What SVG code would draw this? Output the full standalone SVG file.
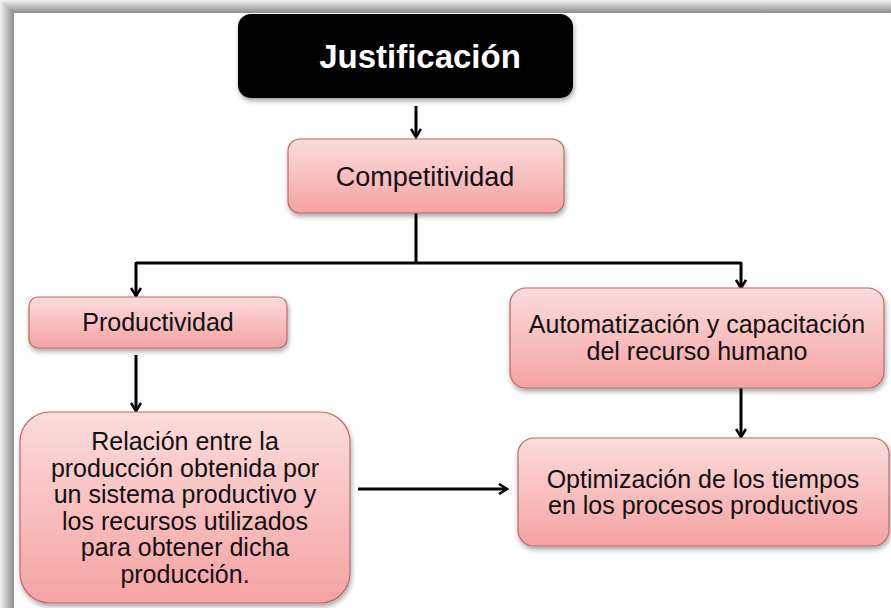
<svg xmlns="http://www.w3.org/2000/svg" width="891" height="608" viewBox="0 0 891 608">
<defs>
<linearGradient id="pink" x1="0" y1="0" x2="0" y2="1">
<stop offset="0" stop-color="#fcdcdc"/>
<stop offset="1" stop-color="#f5a2a2"/>
</linearGradient>
<linearGradient id="topband" x1="0" y1="0" x2="0" y2="1">
<stop offset="0" stop-color="#f2f2f2"/>
<stop offset="1" stop-color="#8c8c8c"/>
</linearGradient>
<linearGradient id="leftband" x1="0" y1="0" x2="1" y2="0">
<stop offset="0" stop-color="#f2f2f2"/>
<stop offset="1" stop-color="#8c8c8c"/>
</linearGradient>
<filter id="sh" x="-10%" y="-10%" width="120%" height="130%">
<feDropShadow dx="1" dy="3" stdDeviation="2.5" flood-color="#000" flood-opacity="0.35"/>
</filter>
<marker id="ah" viewBox="0 0 12 12" refX="10" refY="6" markerWidth="12" markerHeight="12" markerUnits="userSpaceOnUse" orient="auto">
<path d="M2,1 L10,6 L2,11" fill="none" stroke="#000" stroke-width="2.6"/>
</marker>
<style>
.box{fill:url(#pink);stroke:#b86a6a;stroke-width:1.2;filter:url(#sh)}
.t{font-family:"Liberation Sans",Arial,sans-serif;font-size:25px;fill:#111;text-anchor:middle}
.c{fill:none;stroke:#000;stroke-width:3}
</style>
</defs>
<rect x="0" y="0" width="891" height="608" fill="#fff"/>
<rect x="0" y="0" width="891" height="13" fill="url(#topband)"/>
<rect x="0" y="0" width="14" height="608" fill="url(#leftband)"/>
<path d="M0,0 L14,13 L14,0 Z" fill="url(#topband)"/>

<g id="connectors">
<path class="c" d="M416,106 V137" marker-end="url(#ah)"/>
<path class="c" d="M416,213 V263"/>
<path class="c" d="M136,263 H741"/>
<path class="c" d="M136,262 V296" marker-end="url(#ah)"/>
<path class="c" d="M741,262 V288" marker-end="url(#ah)"/>
<path class="c" d="M136,355 V411" marker-end="url(#ah)"/>
<path class="c" d="M358,489 H507" marker-end="url(#ah)"/>
<path class="c" d="M741,388 V437" marker-end="url(#ah)"/>
</g>

<g id="justificacion">
<rect x="238" y="14" width="335" height="84" rx="13" fill="#000" filter="url(#sh)"/>
<text x="420" y="68" font-family="'Liberation Sans',Arial,sans-serif" font-size="33" font-weight="bold" fill="#fff" text-anchor="middle">Justificación</text>
</g>

<g id="competitividad">
<rect class="box" x="288" y="139" width="276" height="74" rx="12"/>
<text class="t" x="425" y="186" style="font-size:27px">Competitividad</text>
</g>

<g id="productividad">
<rect class="box" x="29" y="297" width="258" height="51" rx="9"/>
<text class="t" x="158" y="331">Productividad</text>
</g>

<g id="automatizacion">
<rect class="box" x="510" y="288" width="374" height="100" rx="16"/>
<text class="t" x="697" y="333">Automatización y capacitación</text>
<text class="t" x="697" y="360">del recurso humano</text>
</g>

<g id="relacion">
<rect class="box" x="20" y="412" width="330" height="191" rx="30"/>
<text class="t" x="185" y="450">Relación entre la</text>
<text class="t" x="185" y="477">producción obtenida por</text>
<text class="t" x="185" y="503">un sistema productivo y</text>
<text class="t" x="185" y="530">los recursos utilizados</text>
<text class="t" x="185" y="556">para obtener dicha</text>
<text class="t" x="185" y="583">producción.</text>
</g>

<g id="optimizacion">
<rect class="box" x="518" y="438" width="371" height="108" rx="16"/>
<text class="t" x="703" y="488">Optimización de los tiempos</text>
<text class="t" x="703" y="514">en los procesos productivos</text>
</g>
</svg>
